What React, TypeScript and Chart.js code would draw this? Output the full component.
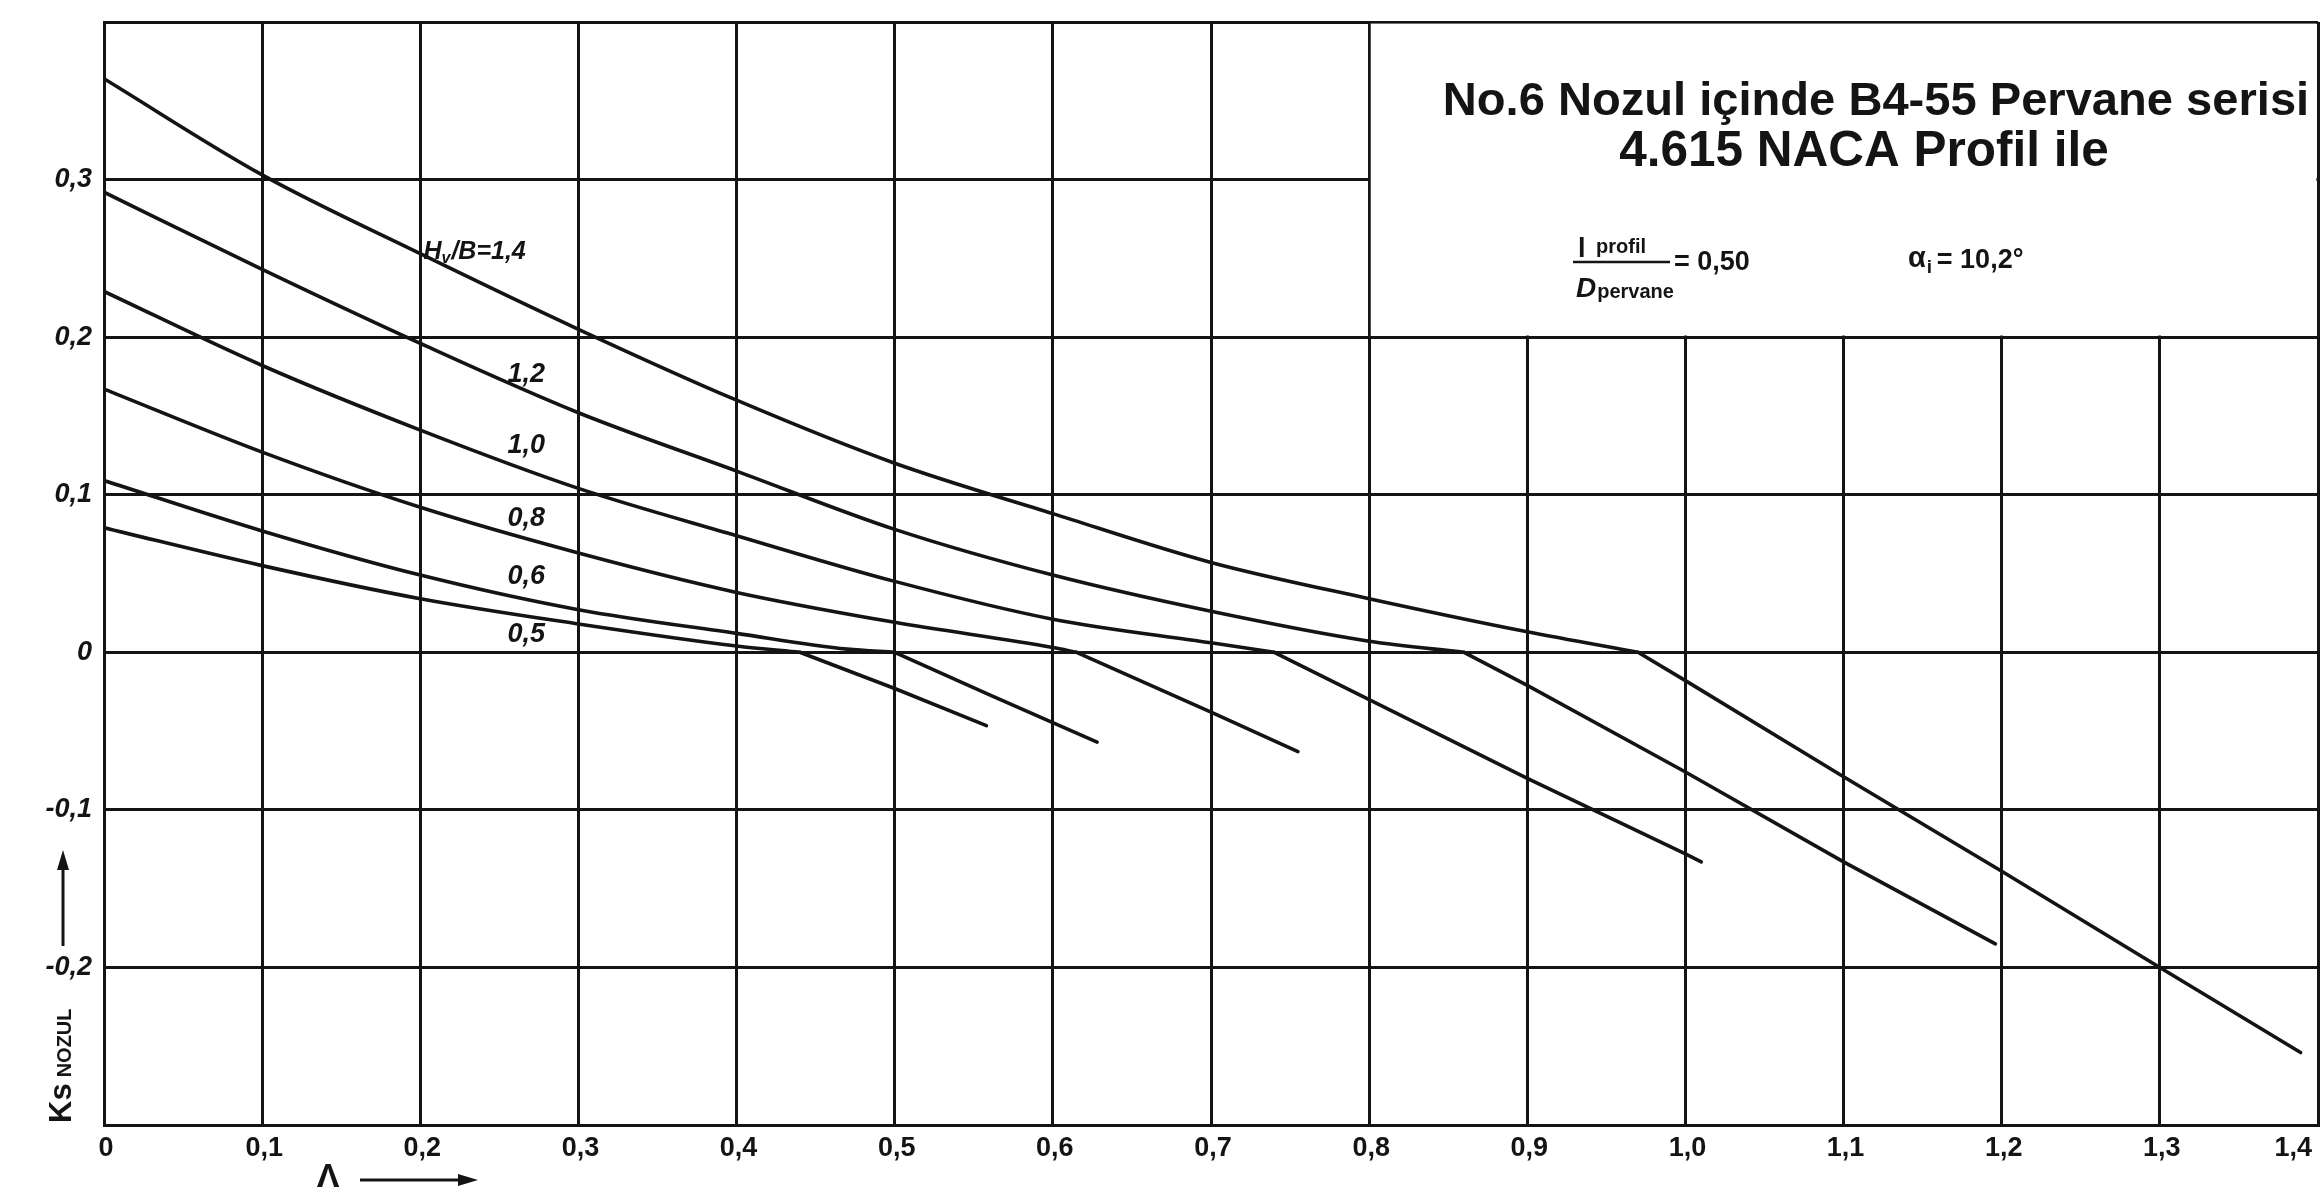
import React, { useEffect, useRef } from "react";
import { Chart, registerables } from "chart.js";

Chart.register(...registerables);

const WIDTH = 2321;
const HEIGHT = 1204;
const INK = "#141414";

// ---- axes ----
const xTickValues = [0, 0.1, 0.2, 0.3, 0.4, 0.5, 0.6, 0.7, 0.8, 0.9, 1.0, 1.1, 1.2, 1.3, 1.4];
const xTickLabels = ["0", "0,1", "0,2", "0,3", "0,4", "0,5", "0,6", "0,7", "0,8", "0,9", "1,0", "1,1", "1,2", "1,3", "1,4"];
const yTickValues = [-0.3, -0.2, -0.1, 0, 0.1, 0.2, 0.3, 0.4];
const yTickLabels = ["", "-0,2", "-0,1", "0", "0,1", "0,2", "0,3", ""];

// ---- series (Λ, Ks nozul) for each Hv/B ----
const seriesNames = ["1,4", "1,2", "1,0", "0,8", "0,6", "0,5"];

const lambda14 = [0, 0.1, 0.2, 0.3, 0.4, 0.5, 0.6, 0.7, 0.8, 0.9, 0.97, 1.0, 1.1, 1.2, 1.3, 1.389];
const ks14 = [0.364, 0.303, 0.253, 0.205, 0.16, 0.12, 0.088, 0.057, 0.034, 0.013, 0.0, -0.018, -0.079, -0.139, -0.2, -0.254];

const lambda12 = [0, 0.1, 0.2, 0.3, 0.4, 0.5, 0.6, 0.7, 0.8, 0.86, 0.9, 1.0, 1.1, 1.196];
const ks12 = [0.292, 0.243, 0.196, 0.152, 0.115, 0.078, 0.049, 0.026, 0.007, 0.0, -0.021, -0.076, -0.133, -0.185];

const lambda10 = [0, 0.1, 0.2, 0.3, 0.4, 0.5, 0.6, 0.7, 0.74, 0.8, 0.9, 1.0, 1.01];
const ks10 = [0.229, 0.182, 0.141, 0.104, 0.074, 0.045, 0.021, 0.006, 0.0, -0.03, -0.08, -0.128, -0.133];

const lambda08 = [0, 0.1, 0.2, 0.3, 0.4, 0.5, 0.6, 0.615, 0.7, 0.755];
const ks08 = [0.167, 0.127, 0.092, 0.063, 0.038, 0.019, 0.003, 0.0, -0.038, -0.063];

const lambda06 = [0, 0.1, 0.2, 0.3, 0.4, 0.47, 0.5, 0.56, 0.628];
const ks06 = [0.109, 0.077, 0.049, 0.027, 0.012, 0.002, 0.0, -0.027, -0.057];

const lambda05 = [0, 0.1, 0.2, 0.3, 0.4, 0.44, 0.5, 0.558];
const ks05 = [0.079, 0.055, 0.034, 0.018, 0.004, 0.0, -0.023, -0.0465];

const seriesLambda = [lambda14, lambda12, lambda10, lambda08, lambda06, lambda05];
const seriesKs = [ks14, ks12, ks10, ks08, ks06, ks05];
// index of the point where each curve leaves the zero line and runs straight down
const kinkIndex = [10, 9, 8, 7, 6, 5];

// curve labels (anchor in data units)
const curveLabelLambda = [0.202, 0.267, 0.267, 0.267, 0.267, 0.267];
const curveLabelKs = [0.254, 0.176, 0.131, 0.085, 0.048, 0.011];

// title box (data units)
const boxLambda = [0.8, 1.4];
const boxKs = [0.2, 0.4];
const titleLine1 = "No.6 Nozul içinde B4-55 Pervane serisi";
const titleLine2 = "4.615 NACA Profil ile";
const fracNum = ["l", "profil"];
const fracDen = ["D", "pervane"];
const fracValue = "= 0,50";
const alphaText = ["α", "i", "= 10,2°"];

const xAxisTitle = "Λ";
const yAxisTitle = ["Ks", "NOZUL"];

const FONT = '"Liberation Sans", "DejaVu Sans", sans-serif';

function arrow(ctx: CanvasRenderingContext2D, x1: number, y1: number, x2: number, y2: number) {
  const ang = Math.atan2(y2 - y1, x2 - x1);
  const len = 20, half = 6;
  ctx.beginPath();
  ctx.moveTo(x1, y1);
  ctx.lineTo(x2 - Math.cos(ang) * len * 0.6, y2 - Math.sin(ang) * len * 0.6);
  ctx.stroke();
  ctx.beginPath();
  ctx.moveTo(x2, y2);
  ctx.lineTo(x2 - Math.cos(ang) * len - Math.sin(ang) * half, y2 - Math.sin(ang) * len + Math.cos(ang) * half);
  ctx.lineTo(x2 - Math.cos(ang) * len + Math.sin(ang) * half, y2 - Math.sin(ang) * len - Math.cos(ang) * half);
  ctx.closePath();
  ctx.fill();
}

function fitText(ctx: CanvasRenderingContext2D, text: string, cx: number, cy: number, target: number, weight: string) {
  ctx.font = `${weight} 34px ${FONT}`;
  const w = ctx.measureText(text).width;
  const size = 34 * target / w;
  ctx.font = `${weight} ${size.toFixed(1)}px ${FONT}`;
  ctx.textAlign = "center";
  ctx.textBaseline = "middle";
  ctx.fillText(text, cx, cy);
}

const decor = {
  id: "decor",
  beforeDatasetsDraw(chart: any) {
    const { ctx, scales } = chart;
    const x = scales.x, y = scales.y;
    const l = x.getPixelForValue(boxLambda[0]);
    const r = x.getPixelForValue(boxLambda[1]);
    const t = y.getPixelForValue(boxKs[1]);
    const b = y.getPixelForValue(boxKs[0]);
    ctx.save();
    ctx.fillStyle = "#ffffff";
    ctx.fillRect(l + 1.6, t + 1.6, r - l - 3.2, b - t - 3.2);
    ctx.restore();
  },
  afterDraw(chart: any) {
    const { ctx, scales, chartArea } = chart;
    const x = scales.x, y = scales.y;
    ctx.save();
    ctx.fillStyle = INK;
    ctx.strokeStyle = INK;

    // x tick labels
    ctx.font = `bold 27px ${FONT}`;
    ctx.textBaseline = "middle";
    xTickValues.forEach((v, i) => {
      const px = x.getPixelForValue(v);
      if (i === xTickValues.length - 1) {
        ctx.textAlign = "right";
        ctx.fillText(xTickLabels[i], px - 6, chartArea.bottom + 24);
      } else {
        ctx.textAlign = "center";
        ctx.fillText(xTickLabels[i], px + 2, chartArea.bottom + 24);
      }
    });

    // x axis title with arrow
    ctx.font = `bold 34px ${FONT}`;
    ctx.textAlign = "center";
    ctx.textBaseline = "middle";
    ctx.fillText(xAxisTitle, 328, chartArea.bottom + 53);
    ctx.lineWidth = 3;
    arrow(ctx, 360, chartArea.bottom + 55, 478, chartArea.bottom + 55);

    // y axis title (rotated) with arrow
    ctx.save();
    ctx.translate(71, chartArea.bottom - 2);
    ctx.rotate(-Math.PI / 2);
    ctx.textAlign = "left";
    ctx.textBaseline = "alphabetic";
    ctx.font = `bold 31px ${FONT}`;
    ctx.fillText(yAxisTitle[0], 0, 0);
    const kw = ctx.measureText(yAxisTitle[0]).width;
    ctx.font = `bold 20px ${FONT}`;
    ctx.fillText(yAxisTitle[1], kw + 6, 0);
    ctx.restore();
    ctx.lineWidth = 3;
    arrow(ctx, 63, 946, 63, 850);

    // curve labels
    seriesNames.forEach((name, i) => {
      const px = x.getPixelForValue(curveLabelLambda[i]);
      const py = y.getPixelForValue(curveLabelKs[i]);
      ctx.textBaseline = "middle";
      if (i === 0) {
        ctx.textAlign = "left";
        ctx.font = `italic bold 25px ${FONT}`;
        ctx.fillText("H", px, py);
        let cx = px + ctx.measureText("H").width;
        ctx.font = `italic bold 16px ${FONT}`;
        ctx.fillText("v", cx, py + 7);
        cx += ctx.measureText("v").width + 1;
        ctx.font = `italic bold 25px ${FONT}`;
        ctx.fillText("/B=" + name, cx, py);
      } else {
        ctx.textAlign = "center";
        ctx.font = `italic bold 27px ${FONT}`;
        ctx.fillText(name, px, py);
      }
    });

    // title box text
    const bt = y.getPixelForValue(boxKs[1]);
    fitText(ctx, titleLine1, 1876, bt + 80, 866, "bold");
    fitText(ctx, titleLine2, 1864, bt + 130, 490, "bold");

    // fraction l_profil / D_pervane
    ctx.textAlign = "left";
    ctx.textBaseline = "alphabetic";
    const fx = 1576;
    ctx.font = `bold 27px ${FONT}`;
    ctx.fillText(fracNum[0], fx + 2, bt + 235);
    ctx.font = `bold 20px ${FONT}`;
    ctx.fillText(fracNum[1], fx + 20, bt + 231);
    ctx.lineWidth = 2.5;
    ctx.beginPath();
    ctx.moveTo(fx - 3, bt + 240);
    ctx.lineTo(fx + 94, bt + 240);
    ctx.stroke();
    ctx.font = `italic bold 28px ${FONT}`;
    ctx.fillText(fracDen[0], fx, bt + 275);
    const dw = ctx.measureText(fracDen[0]).width;
    ctx.font = `bold 20px ${FONT}`;
    ctx.fillText(fracDen[1], fx + dw + 1, bt + 276);
    ctx.font = `bold 27px ${FONT}`;
    ctx.fillText(fracValue, fx + 98, bt + 248);

    // alpha_i
    const ax = 1908;
    ctx.font = `bold 29px ${FONT}`;
    ctx.fillText(alphaText[0], ax, bt + 245);
    const aw = ctx.measureText(alphaText[0]).width;
    ctx.font = `bold 19px ${FONT}`;
    ctx.fillText(alphaText[1], ax + aw + 1, bt + 251);
    ctx.font = `bold 27px ${FONT}`;
    ctx.fillText(alphaText[2], ax + aw + 11, bt + 246);

    ctx.restore();
  },
};

export default function App() {
  const canvasRef = useRef<HTMLCanvasElement | null>(null);

  useEffect(() => {
    const canvas = canvasRef.current;
    if (!canvas) return;
    const datasets: any[] = [];
    seriesNames.forEach((name, i) => {
      const pts = seriesLambda[i].map((lx, k) => ({ x: lx, y: seriesKs[i][k] }));
      const k = kinkIndex[i];
      const common = {
        showLine: true,
        borderColor: INK,
        backgroundColor: INK,
        borderWidth: 3.6,
        pointRadius: 0,
        pointHoverRadius: 0,
        borderCapStyle: "round" as const,
        borderJoinStyle: "round" as const,
        fill: false,
      };
      datasets.push({ ...common, label: "Hv/B=" + name, data: pts.slice(0, k + 1), cubicInterpolationMode: "monotone" });
      datasets.push({ ...common, label: "Hv/B=" + name + " (tail)", data: pts.slice(k), tension: 0 });
    });

    const chart = new Chart(canvas, {
      type: "scatter",
      data: { datasets },
      options: {
        animation: false,
        responsive: false,
        devicePixelRatio: 1,
        layout: { padding: { left: 0, top: 22, right: 3, bottom: 0 } },
        plugins: {
          legend: { display: false },
          tooltip: { enabled: false },
          title: { display: false },
        },
        scales: {
          x: {
            type: "linear",
            min: xTickValues[0],
            max: xTickValues[xTickValues.length - 1],
            ticks: { stepSize: 0.1, display: false },
            grid: { color: INK, lineWidth: 3, drawTicks: false },
            border: { color: INK, width: 3 },
            afterFit: (s: any) => { s.height = 79; s.paddingLeft = 0; s.paddingRight = 0; },
          },
          y: {
            type: "linear",
            min: yTickValues[0],
            max: yTickValues[yTickValues.length - 1],
            ticks: {
              stepSize: 0.1,
              padding: 12,
              color: INK,
              font: { family: FONT, size: 27, weight: "bold", style: "italic" },
              callback: (v: any) => {
                let best = 0;
                yTickValues.forEach((tv, k) => {
                  if (Math.abs(tv - v) < Math.abs(yTickValues[best] - v)) best = k;
                });
                return yTickLabels[best];
              },
            },
            grid: { color: INK, lineWidth: 3, drawTicks: false },
            border: { color: INK, width: 3 },
            afterFit: (s: any) => { s.width = 104; s.paddingTop = 0; s.paddingBottom = 0; },
          },
        },
      },
      plugins: [decor],
    });
    return () => chart.destroy();
  }, []);

  return (
    <div style={{ position: "absolute", left: 0, top: 0, width: WIDTH, height: HEIGHT, background: "#ffffff" }}>
      <canvas ref={canvasRef} width={WIDTH} height={HEIGHT} style={{ display: "block", width: WIDTH, height: HEIGHT }} />
    </div>
  );
}
